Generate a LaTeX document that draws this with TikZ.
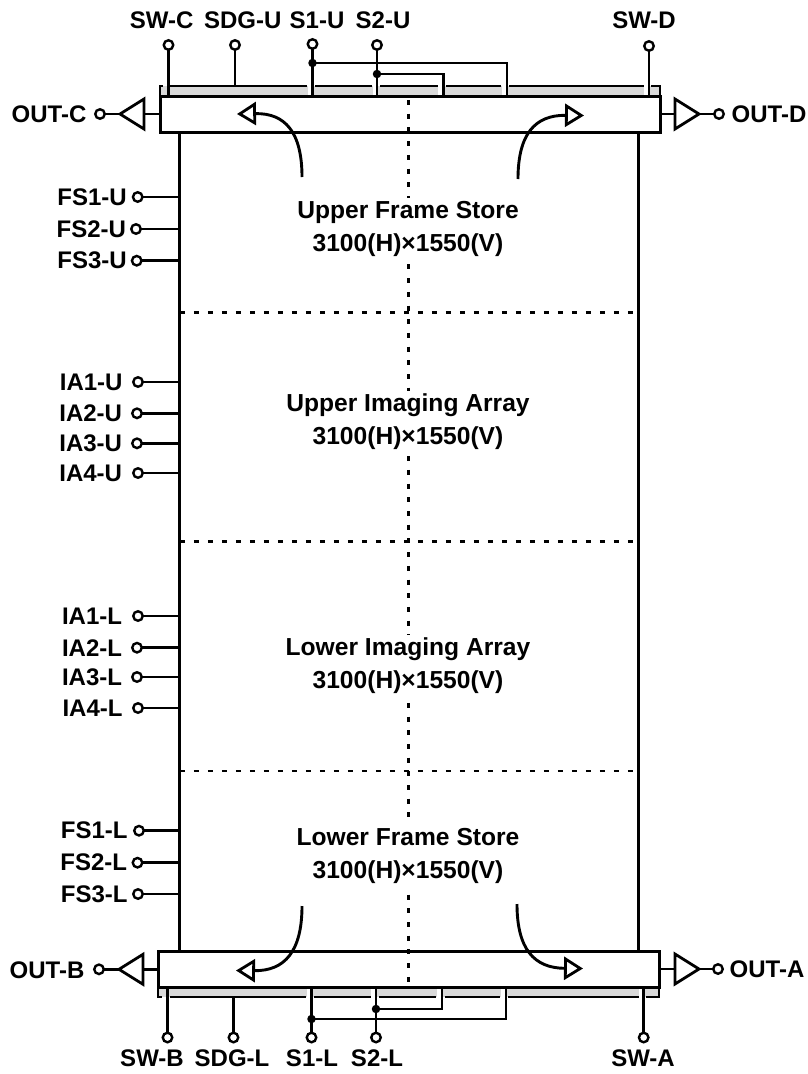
\documentclass[tikz,border=0pt]{standalone}
\usepackage{fontspec}
\setmainfont{Liberation Sans}
\usepackage{tikz}
\usetikzlibrary{arrows.meta,positioning,shapes.geometric}
\definecolor{stripGray}{HTML}{D9D9D9}
\tikzset{
  wire/.style={line width=2.8pt},
  frameline/.style={draw=black, line width=3pt},
  regbox/.style={frameline, fill=white, minimum width=#1, minimum height=36pt, inner sep=0pt, outer sep=0pt},
  strip/.style={fill=stripGray, minimum width=#1, minimum height=10pt, inner sep=0pt, outer sep=0pt},
  gapline/.style={white, line width=3.5pt},
  pinhole/.style={circle, draw=black, line width=2.4pt, fill=white, minimum size=9.5pt, inner sep=0pt, outer sep=0pt},
  junction/.style={circle, fill=black, minimum size=8.5pt, inner sep=0pt, outer sep=0pt},
  pinlabel/.style={font=\bfseries\fontsize{24}{26}\selectfont, inner sep=0pt},
  blocklabel/.style={font=\bfseries\fontsize{24.6}{33}\selectfont, align=center, fill=white, inner xsep=4pt, inner ysep=3pt},
  amp/.style={draw=black, line width=2.8pt, isosceles triangle, isosceles triangle stretches, shape border rotate=#1, minimum width=30pt, minimum height=24pt, inner sep=0pt, outer sep=0pt, anchor=apex},
  arrflow/.style={-{Triangle[open, length=19pt, width=23pt, line width=2.8pt]}, line width=2.9pt},
  dotline/.style={line width=2.8pt, dash pattern=on 5pt off 8.7pt},
  dashline/.style={line width=2.6pt, dash pattern=on 5pt off 9pt},
}
\begin{document}
\begin{tikzpicture}[x=1pt, y=-1pt]
\useasboundingbox (0,0) rectangle (807,1074);

% Grey strips
\node[strip=500pt] (stripU) at (410,91) {};
\node[strip=501pt] (stripL) at (408.5,992) {};
\draw[gapline] (309.5,85)--(309.5,95) (374.5,85)--(374.5,95) (440,85)--(440,95) (504,85)--(504,95) (646,85)--(646,95);
\draw[gapline] (308.5,988)--(308.5,998) (373,988)--(373,998) (439,988)--(439,998) (503,988)--(503,998) (640.5,988)--(640.5,998);

% Array and readout registers
\node[frameline, minimum width=459pt, minimum height=819pt, outer sep=0pt] (array) at (409.3,541.5) {};
\node[regbox=500pt] (regU) at (410,114.3) {};
\node[regbox=501pt] (regL) at (408.5,969) {};

% Dividers
\coordinate (midTop) at (408.7,100);
\coordinate (midBottom) at (408.7,986);
\draw[dotline] (midTop) -- (midBottom);
\draw[dashline] (array.west |- 0,312.3) -- (array.east |- 0,312.3);
\draw[dashline] (array.west |- 0,541.7) -- (array.east |- 0,541.7);
\draw[dashline] (array.west |- 0,771) -- (array.east |- 0,771);

% Block names
\node[blocklabel] (upperFS) at (408,228.5) {Upper Frame Store\\3100(H)×1550(V)};
\node[blocklabel] (upperIA) at (408,421.5) {Upper Imaging Array\\3100(H)×1550(V)};
\node[blocklabel] (lowerIA) at (408,666) {Lower Imaging Array\\3100(H)×1550(V)};
\node[blocklabel] (lowerFS) at (408,856) {Lower Frame Store\\3100(H)×1550(V)};

% Strip outlines, upper
\draw[wire] (160,96) -- (160,86) -- (163,86);
\draw[wire] (170,86) -- (307,86) (315,86) -- (372,86) (380,86) -- (437.5,86) (445.7,86) -- (501,86) (509,86) -- (643.7,86) (651,86) -- (660,86) -- (660,96);

% Strip outlines, lower
\draw[wire] (158,987) -- (158,997) -- (162,997);
\draw[wire] (170,997) -- (306,997) (314,997) -- (370.5,997) (379,997) -- (436,997) (444.7,997) -- (500,997) (508,997) -- (639,997) (646,997) -- (659,997) -- (659,987);

% Upper pins
\node[pinhole] (swc) at (168.5,45) {};
\node[pinhole] (sdgu) at (235,45) {};
\node[pinhole] (s1u) at (312.5,44) {};
\node[pinhole] (s2u) at (377,45) {};
\node[pinhole] (swd) at (649,46) {};
\node[pinlabel] (swcText) at (161.7,20) {SW-C};
\node[pinlabel] (sdguText) at (242.7,20) {SDG-U};
\node[pinlabel] (s1uText) at (317,20) {S1-U};
\node[pinlabel] (s2uText) at (383,20) {S2-U};
\node[pinlabel] (swdText) at (644,20) {SW-D};
\draw[wire] (swc) -- (swc |- regU.north);
\draw[wire] (sdgu) -- (sdgu |- stripU.north);
\draw[wire] (s1u) -- (s1u |- regU.north);
\draw[wire] (s2u) -- (s2u |- regU.north);
\draw[wire] (swd) -- (swd |- regU.north);
\node[junction] (dotS1U) at (312.5,63) {};
\node[junction] (dotS2U) at (377,74) {};
\coordinate (endS1U) at (507,96);
\coordinate (endS2U) at (443.5,96);
\draw[wire] (dotS1U.center) -| (endS1U);
\draw[wire] (dotS2U.center) -| (endS2U);

% Lower pins
\node[pinhole] (swb) at (167.5,1037.5) {};
\node[pinhole] (sdgl) at (233.5,1037.5) {};
\node[pinhole] (s1l) at (311.5,1037.5) {};
\node[pinhole] (s2l) at (376,1037.5) {};
\node[pinhole] (swa) at (643.7,1037.5) {};
\node[pinlabel] (swbText) at (152,1058) {SW-B};
\node[pinlabel] (sdglText) at (232,1058) {SDG-L};
\node[pinlabel] (s1lText) at (312,1058) {S1-L};
\node[pinlabel] (s2lText) at (377,1058) {S2-L};
\node[pinlabel] (swaText) at (643,1058) {SW-A};
\draw[wire] (swb) -- (swb |- regL.south);
\draw[wire] (sdgl) -- (sdgl |- stripL.south);
\draw[wire] (s1l) -- (s1l |- regL.south);
\draw[wire] (s2l) -- (s2l |- regL.south);
\draw[wire] (swa) -- (swa |- regL.south);
\node[junction] (dotS1L) at (311.5,1019) {};
\node[junction] (dotS2L) at (376,1009) {};
\coordinate (endS1L) at (506,987);
\coordinate (endS2L) at (442,987);
\draw[wire] (dotS1L.center) -| (endS1L);
\draw[wire] (dotS2L.center) -| (endS2L);

% Output amplifiers
\node[amp=180] (ampC) at (120,114) {};
\node[amp=0] (ampD) at (699,114) {};
\node[amp=180] (ampB) at (119,969.3) {};
\node[amp=0] (ampA) at (699,969) {};
\node[pinhole] (outc) at (100,114) {};
\node[pinhole] (outd) at (719,114) {};
\node[pinhole] (outb) at (99,969.3) {};
\node[pinhole] (outa) at (718,969) {};
\node[pinlabel] (outcText) at (49,114) {OUT-C};
\node[pinlabel] (outdText) at (769,114) {OUT-D};
\node[pinlabel] (outbText) at (47,970) {OUT-B};
\node[pinlabel] (outaText) at (767,969) {OUT-A};
\draw[wire] (ampC.lower side) -- (ampC.lower side -| regU.west);
\draw[wire] (ampC.apex) -- (outc);
\draw[wire] (ampD.lower side) -- (ampD.lower side -| regU.east);
\draw[wire] (ampD.apex) -- (outd);
\draw[wire] (ampB.lower side) -- (ampB.lower side -| regL.west);
\draw[wire] (ampB.apex) -- (outb);
\draw[wire] (ampA.lower side) -- (ampA.lower side -| regL.east);
\draw[wire] (ampA.apex) -- (outa);

% Readout direction
\coordinate (flowC) at (302,177);
\coordinate (flowD) at (518,179);
\coordinate (flowB) at (302,906);
\coordinate (flowA) at (517,904);
\draw[arrflow] (flowC) .. controls (302,132) and (285,113) .. (237,114);
\draw[arrflow] (flowD) .. controls (518,134) and (535,115) .. (584,115.5);
\draw[arrflow] (flowB) .. controls (302,951) and (285,971) .. (236,970.5);
\draw[arrflow] (flowA) .. controls (517,949) and (534,968) .. (583,968.5);

% Clock pins, upper half
\node[pinhole] (fs1u) at (137.7,197) {};
\node[pinhole] (fs2u) at (136,229) {};
\node[pinhole] (fs3u) at (136.7,260.7) {};
\node[pinhole] (ia1u) at (138,382) {};
\node[pinhole] (ia2u) at (137,413.3) {};
\node[pinhole] (ia3u) at (137,443.3) {};
\node[pinhole] (ia4u) at (138,473) {};
\node[pinlabel, left=6pt of fs1u] (fs1uText) {FS1-U};
\node[pinlabel, left=5pt of fs2u] (fs2uText) {FS2-U};
\node[pinlabel, left=5pt of fs3u] (fs3uText) {FS3-U};
\node[pinlabel, left=10.5pt of ia1u] (ia1uText) {IA1-U};
\node[pinlabel, left=10pt of ia2u] (ia2uText) {IA2-U};
\node[pinlabel, left=10pt of ia3u] (ia3uText) {IA3-U};
\node[pinlabel, left=11pt of ia4u] (ia4uText) {IA4-U};
\draw[wire] (fs1u) -- (fs1u -| array.west);
\draw[wire] (fs2u) -- (fs2u -| array.west);
\draw[wire] (fs3u) -- (fs3u -| array.west);
\draw[wire] (ia1u) -- (ia1u -| array.west);
\draw[wire] (ia2u) -- (ia2u -| array.west);
\draw[wire] (ia3u) -- (ia3u -| array.west);
\draw[wire] (ia4u) -- (ia4u -| array.west);

% Clock pins, lower half
\node[pinhole] (ia1l) at (138,616) {};
\node[pinhole] (ia2l) at (137,647.7) {};
\node[pinhole] (ia3l) at (137,677) {};
\node[pinhole] (ia4l) at (138,708) {};
\node[pinhole] (fs1l) at (139,830.7) {};
\node[pinhole] (fs2l) at (137.5,862.7) {};
\node[pinhole] (fs3l) at (138,894) {};
\node[pinlabel, left=11pt of ia1l] (ia1lText) {IA1-L};
\node[pinlabel, left=10pt of ia2l] (ia2lText) {IA2-L};
\node[pinlabel, left=10pt of ia3l] (ia3lText) {IA3-L};
\node[pinlabel, left=10.5pt of ia4l] (ia4lText) {IA4-L};
\node[pinlabel, left=6.5pt of fs1l] (fs1lText) {FS1-L};
\node[pinlabel, left=5.5pt of fs2l] (fs2lText) {FS2-L};
\node[pinlabel, left=5.5pt of fs3l] (fs3lText) {FS3-L};
\draw[wire] (ia1l) -- (ia1l -| array.west);
\draw[wire] (ia2l) -- (ia2l -| array.west);
\draw[wire] (ia3l) -- (ia3l -| array.west);
\draw[wire] (ia4l) -- (ia4l -| array.west);
\draw[wire] (fs1l) -- (fs1l -| array.west);
\draw[wire] (fs2l) -- (fs2l -| array.west);
\draw[wire] (fs3l) -- (fs3l -| array.west);
\end{tikzpicture}
\end{document}
